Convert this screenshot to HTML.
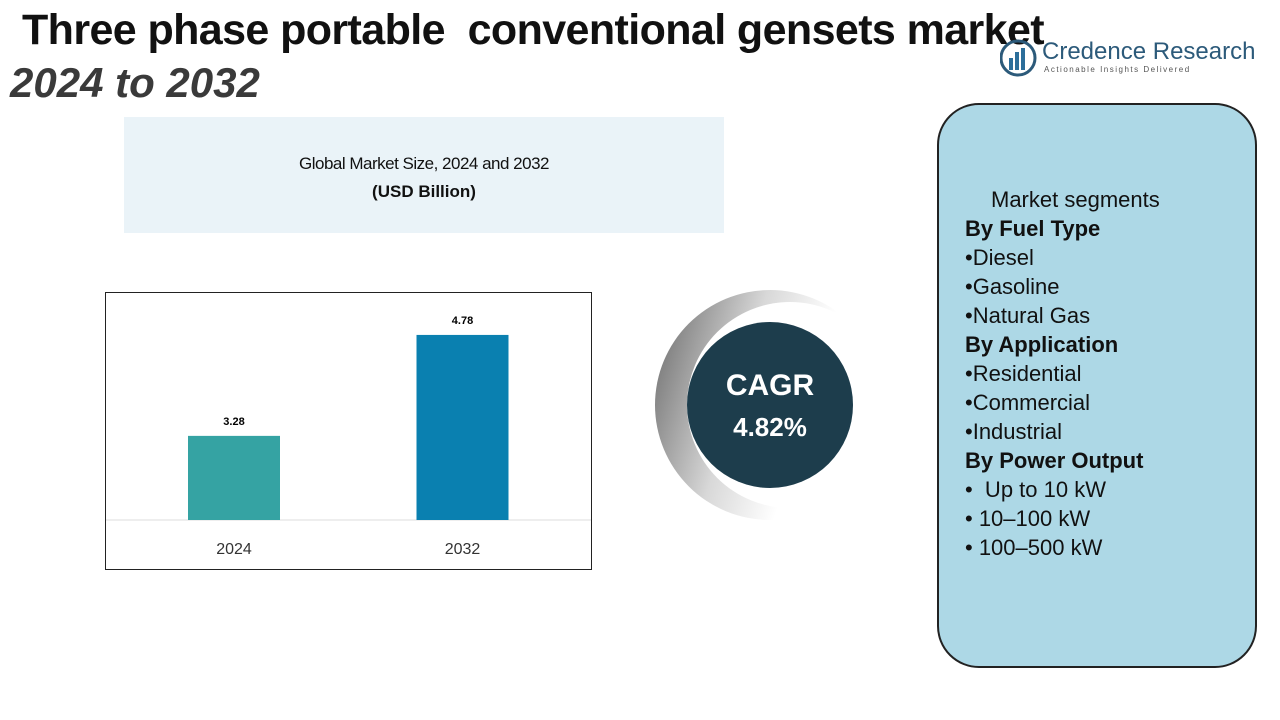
<!DOCTYPE html>
<html><head><meta charset="utf-8"><style>
body{margin:0;width:1280px;height:720px;background:#fff;position:relative;overflow:hidden;font-family:"Liberation Sans",sans-serif}
.abs{position:absolute}
</style></head><body>
<div class="abs" style="left:22px;top:6px;font-size:43px;font-weight:bold;color:#111;white-space:nowrap;letter-spacing:-0.6px">Three phase portable &nbsp;conventional gensets market</div>
<div class="abs" style="left:10px;top:59px;font-size:42px;font-weight:bold;font-style:italic;color:#3a3a3a;white-space:nowrap">2024 to 2032</div>
<div class="abs" style="left:1000px;top:38px;width:240px;height:40px">
<svg width="40" height="40" class="abs" style="left:0;top:0"><circle cx="18" cy="20" r="17" fill="none" stroke="#2c5a7a" stroke-width="3"/><rect x="9" y="20" width="4" height="12" fill="#2c6e9a"/><rect x="15" y="14" width="4" height="18" fill="#2c6e9a"/><rect x="21" y="10" width="4" height="22" fill="#2c6e9a"/></svg>
<div class="abs" style="left:42px;top:0;font-size:24px;color:#2c5a7a;white-space:nowrap">Credence Research</div>
<div class="abs" style="left:44px;top:27px;font-size:8px;color:#555;letter-spacing:1.5px;white-space:nowrap">Actionable Insights Delivered</div>
</div>
<div class="abs" style="left:124px;top:117px;width:600px;height:116px;background:#eaf3f8;text-align:center">
<div style="margin-top:37px;font-size:17px;color:#111;letter-spacing:-0.5px">Global Market Size, 2024 and 2032</div>
<div style="margin-top:8px;font-size:17px;font-weight:bold;color:#111">(USD Billion)</div>
</div>
<svg class="abs" style="left:0;top:0" width="1280" height="720">
<rect x="105.5" y="292.5" width="486" height="277" fill="none" stroke="#222" stroke-width="1"/>
<g id="bars"></g>
</svg>
<svg class="abs" style="left:640px;top:280px" width="260" height="240">
<defs><linearGradient id="g" x1="0" y1="0" x2="1" y2="0.3"><stop offset="0" stop-color="#666"/><stop offset="0.45" stop-color="#d8d8d8"/><stop offset="0.75" stop-color="#fff"/></linearGradient></defs>
<circle cx="130" cy="125" r="115" fill="url(#g)"/>
<circle cx="150" cy="125" r="103" fill="#fff"/>
<circle cx="130" cy="125" r="83" fill="#1d3d4c"/>
<text x="130" y="115" fill="#fff" font-size="30" font-weight="bold" text-anchor="middle" font-family="Liberation Sans">CAGR</text>
<text x="130" y="156" fill="#fff" font-size="26" font-weight="bold" text-anchor="middle" font-family="Liberation Sans">4.82%</text>
</svg>
<div class="abs" style="left:937px;top:103px;width:316px;height:561px;background:#add8e6;border:2px solid #222;border-radius:42px;font-size:22px;color:#111;line-height:29px">
<div style="margin:80px 0 0 26px">
<div style="padding-left:26px">Market segments</div>
<div style="font-weight:bold">By Fuel Type</div><div>•Diesel</div><div>•Gasoline</div><div>•Natural Gas</div>
<div style="font-weight:bold">By Application</div><div>•Residential</div><div>•Commercial</div><div>•Industrial</div>
<div style="font-weight:bold">By Power Output</div><div>• &nbsp;Up to 10 kW</div><div>• 10–100 kW</div><div>• 100–500 kW</div>
</div></div>
<script>
const categories=["2024","2032"];
const values=[3.28,4.78];
const colors=["#35a3a3","#0a80b0"];
const g=document.getElementById('bars');
const NS="http://www.w3.org/2000/svg";
const base=520, yMin=2.03, pxPer=67.3;
function y(v){return base-(v-yMin)*pxPer;}
function xc(i){return 234+i*228.5;}
const ax=document.createElementNS(NS,'line');
ax.setAttribute('x1',106);ax.setAttribute('x2',591);ax.setAttribute('y1',base);ax.setAttribute('y2',base);ax.setAttribute('stroke','#ddd');


g.appendChild(ax);
categories.forEach((c,i)=>{
 const r=document.createElementNS(NS,'rect');
 r.setAttribute('x',xc(i)-46);r.setAttribute('width',92);r.setAttribute('y',y(values[i]));r.setAttribute('height',base-y(values[i]));r.setAttribute('fill',colors[i]);
 
 
 g.appendChild(r);
 const t=document.createElementNS(NS,'text');
 t.setAttribute('x',xc(i));t.setAttribute('y',y(values[i])-11);t.setAttribute('text-anchor','middle');t.setAttribute('font-size','11');t.setAttribute('font-weight','bold');t.textContent=values[i].toFixed(2);
 
 
 g.appendChild(t);
 const l=document.createElementNS(NS,'text');
 l.setAttribute('x',xc(i));l.setAttribute('y',554);l.setAttribute('text-anchor','middle');l.setAttribute('font-size','16');l.setAttribute('fill','#333');l.textContent=c;
 
 
 g.appendChild(l);
});
</script>
</body></html>
